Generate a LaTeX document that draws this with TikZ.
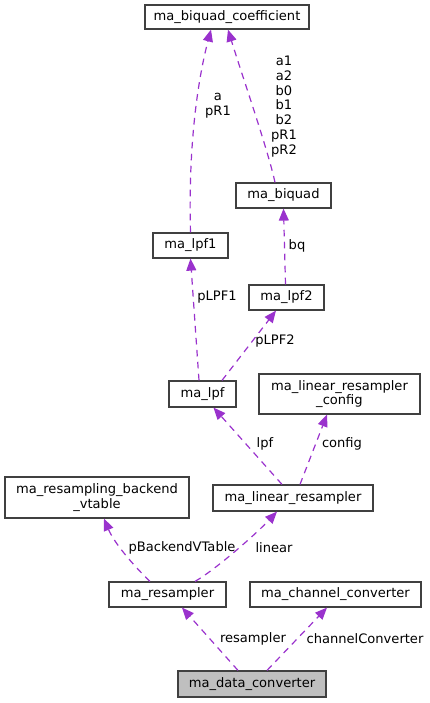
\documentclass[tikz,border=0pt]{standalone}
\usepackage{fontspec}
\setmainfont{DejaVu Sans}
\usetikzlibrary{arrows.meta,calc}
\definecolor{edgec}{HTML}{9A32CD}
\definecolor{boxc}{HTML}{404040}
\definecolor{greyfill}{HTML}{BFBFBF}
\begin{document}
\begin{tikzpicture}[x=0.75pt,y=-0.75pt,
  every node/.style={font=\fontsize{9.8}{11.1}\selectfont},
  box/.style={draw=boxc,line width=0.9pt,fill=white,inner sep=0pt,align=center},
  rel/.style={draw=edgec,line width=0.9pt,dash pattern=on 5pt off 4pt,
    -{Triangle[length=9pt,width=7.5pt,fill=edgec]}},
  lab/.style={inner sep=0pt,align=center}]
\useasboundingbox (0,0) rectangle (429,703);
% nodes
\node[box,minimum width=164*0.75pt,minimum height=24*0.75pt] (coeff) at (227,17) {ma\_biquad\_coefficient};
\node[box,minimum width=95*0.75pt,minimum height=25*0.75pt] (biquad) at (283.5,195.5) {ma\_biquad};
\node[box,minimum width=75*0.75pt,minimum height=25*0.75pt] (lpf1) at (190.5,245.5) {ma\_lpf1};
\node[box,minimum width=75*0.75pt,minimum height=25*0.75pt] (lpf2) at (286.5,297.5) {ma\_lpf2};
\node[box,minimum width=67*0.75pt,minimum height=26*0.75pt] (lpf) at (202.5,394) {ma\_lpf};
\node[box,minimum width=161*0.75pt,minimum height=40*0.75pt] (config) at (339.5,394) {ma\_linear\_resampler\\\_config};
\node[box,minimum width=184*0.75pt,minimum height=41*0.75pt] (vtable) at (97,497.5) {ma\_resampling\_backend\\\_vtable};
\node[box,minimum width=160*0.75pt,minimum height=26*0.75pt] (linres) at (293,498) {ma\_linear\_resampler};
\node[box,minimum width=117*0.75pt,minimum height=25*0.75pt] (resampler) at (167.5,594.5) {ma\_resampler};
\node[box,minimum width=171*0.75pt,minimum height=25*0.75pt] (chconv) at (335.5,594.5) {ma\_channel\_converter};
\node[box,fill=greyfill,minimum width=148*0.75pt,minimum height=26*0.75pt] (data) at (252,684) {ma\_data\_converter};
% edges
\draw[rel] (lpf1.north) .. controls (188,140) and (199,75) .. ($(coeff.south)+(-16,0)$);
\draw[rel] ($(biquad.north)+(-8.5,0)$) .. controls (268,150) and (242,75) .. ($(coeff.south)+(1,0)$);
\draw[rel] ($(lpf2.north)+(-1,0)$) -- (biquad.south);
\draw[rel] ($(lpf.north)+(-3.5,0)$) -- (lpf1.south);
\draw[rel] ($(lpf.north)+(19.5,0)$) -- ($(lpf2.south)+(-10.5,0)$);
\draw[rel] ($(linres.north)+(-11,0)$) -- ($(lpf.south)+(11,0)$);
\draw[rel] ($(linres.north)+(7,0)$) -- ($(config.south)+(-12.5,0)$);
\draw[rel] ($(resampler.north)+(-17.5,0)$) .. controls (138,570) and (115,545) .. ($(vtable.south)+(7,0)$);
\draw[rel] ($(resampler.north)+(27.5,0)$) .. controls (215,570) and (255,535) .. ($(linres.south)+(-16,0)$);
\draw[rel] ($(data.north)+(-14,0)$) -- ($(resampler.south)+(14.5,0)$);
\draw[rel] ($(data.north)+(15,0)$) -- ($(chconv.south)+(-8.5,0)$);
% labels
\node[lab] (l1) at (218,106) {a\\pR1};
\node[lab] (l2) at (284,106.5) {a1\\a2\\b0\\b1\\b2\\pR1\\pR2};
\node[lab] (l3) at (297,246) {bq};
\node[lab] (l4) at (217,297) {pLPF1};
\node[lab] (l5) at (275,341) {pLPF2};
\node[lab] (l6) at (265,444) {lpf};
\node[lab] (l7) at (342,444) {config};
\node[lab] (l8) at (182,548) {pBackendVTable};
\node[lab] (l9) at (274,548) {linear};
\node[lab] (l10) at (253,639) {resampler};
\node[lab] (l11) at (365,639) {channelConverter};
\end{tikzpicture}
\end{document}
